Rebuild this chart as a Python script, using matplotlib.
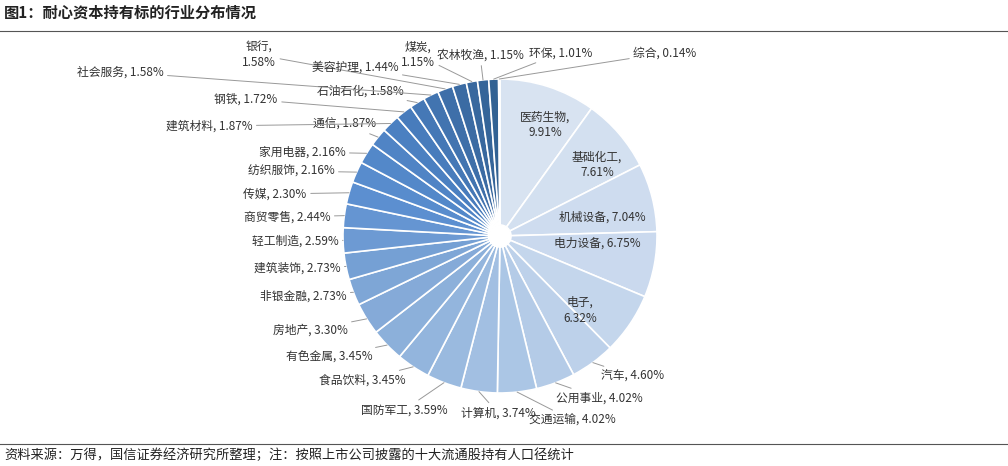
import matplotlib
matplotlib.use("Agg")
import matplotlib.pyplot as plt
import numpy as np
from matplotlib.colors import LinearSegmentedColormap

plt.rcParams['font.family'] = 'Noto Sans CJK SC'

categories = ["医药生物","基础化工","机械设备","电力设备","电子","汽车","公用事业","交通运输","计算机","国防军工",
              "食品饮料","有色金属","房地产","非银金融","建筑装饰","轻工制造","商贸零售","传媒","纺织服饰","家用电器",
              "通信","建筑材料","钢铁","石油石化","社会服务","银行","美容护理","煤炭","农林牧渔","环保","综合"]
values = [9.91,7.61,7.04,6.75,6.32,4.60,4.02,4.02,3.74,3.59,
          3.45,3.45,3.30,2.73,2.73,2.59,2.44,2.30,2.16,2.16,
          1.87,1.87,1.72,1.58,1.58,1.58,1.44,1.15,1.15,1.01,0.14]

# label text positions in pixels from top-left (layout only), and style
label_pos = [(545,125),(597,165),(602,217),(597,243),(580,310),(633,376),(599,398),(572,420),(498,413),(404,410),
             (362,380),(329,357),(310,330),(303,296),(297,268),(295,241),(287,217),(275,194),(291,171),(302,152),
             (345,124),(209,126),(246,99),(360,91),(120,72),(259,55),(355,67),(418,55),(480,55),(561,53),(665,53)]
inside = {0,1,2,3,4}
twoline = {0,1,4,25,27}

W, H = 1008, 466
fig = plt.figure(figsize=(W/100, H/100), dpi=100)
fig.patch.set_facecolor('white')

cx, cy, R = 500, 236, 157
ax = fig.add_axes([(cx-R)/W, (H-cy-R)/H, 2*R/W, 2*R/H])

cmap = LinearSegmentedColormap.from_list('b', ['#d8e3f1','#c3d5ec','#9dbce0','#7fa6d6','#5b8fd0','#4a7fc0','#3c6ca5','#2f5f8e'])
n = len(values)
colors = [cmap(i/(n-1)) for i in range(n)]
wedges, _ = ax.pie(values, colors=colors, startangle=90, counterclock=False, radius=1,
                   wedgeprops=dict(width=0.93, edgecolor='white', linewidth=1.2))
ax.set_xlim(-1, 1); ax.set_ylim(-1, 1); ax.axis('off')

for i, w in enumerate(wedges):
    txt = f"{categories[i]},\n{values[i]:.2f}%" if i in twoline else f"{categories[i]}, {values[i]:.2f}%"
    px, py = label_pos[i]
    if i in inside:
        fig.text(px/W, 1-py/H, txt, ha='center', va='center', fontsize=8.5, color='#333333', linespacing=1.3)
    else:
        ang = np.deg2rad((w.theta1 + w.theta2)/2)
        ax.annotate(txt, xy=(np.cos(ang), np.sin(ang)), xycoords='data',
                    xytext=(px, H-py), textcoords='figure pixels', ha='center', va='center',
                    fontsize=8.5, color='#333333', linespacing=1.2, annotation_clip=False,
                    arrowprops=dict(arrowstyle='-', color='#999999', lw=0.7, shrinkA=1, shrinkB=0))

fig.text(4/W, 1-13/H, "图1：耐心资本持有标的行业分布情况", fontsize=11, fontweight='bold', va='center', ha='left', color='#222222')
fig.add_artist(plt.Line2D([0, 1], [1-31/H, 1-31/H], color='#555555', lw=0.8))
fig.add_artist(plt.Line2D([0, 1], [1-444/H, 1-444/H], color='#555555', lw=0.8))
fig.text(4/W, 1-455/H, "资料来源：万得，国信证券经济研究所整理；注：按照上市公司披露的十大流通股持有人口径统计",
         fontsize=9.5, va='center', ha='left', color='#222222')

fig.savefig("out.png", dpi=100)
